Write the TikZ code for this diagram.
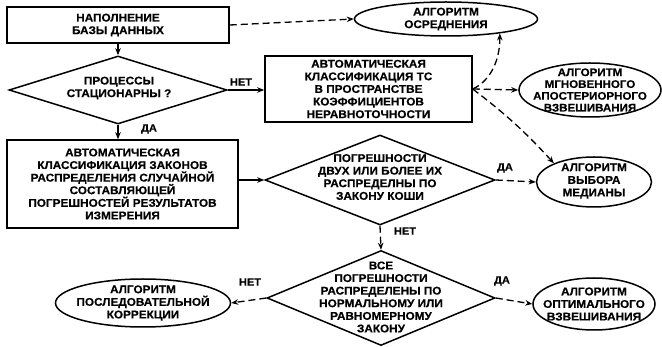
\documentclass[tikz,border=0pt]{standalone}
\usepackage{fontspec}
\setmainfont{Liberation Sans}[FakeStretch=1.05,BoldFeatures={FakeBold=0.4}]
\usetikzlibrary{shapes.geometric,arrows.meta}
\begin{document}
\begin{tikzpicture}[x=1pt,y=-1pt,
  lbl/.style={font=\bfseries\fontsize{11.2}{12.6}\selectfont, align=center, inner sep=0pt},
  box/.style={lbl, draw, line width=1.5pt, rectangle},
  dia/.style={draw, line width=1.5pt, diamond, inner sep=0pt},
  ell/.style={draw, line width=1.5pt, ellipse, inner sep=0pt},
  sarr/.style={line width=1.3pt, -{Stealth[length=7pt,width=5.5pt]}},
  darr/.style={sarr, dash pattern=on 7pt off 4pt},
  yesno/.style={font=\bfseries\fontsize{10.5}{12}\selectfont, inner sep=0pt}
]
\fill[white] (0,0) rectangle (662,347);
\useasboundingbox (0,0) rectangle (662,347);

\node[box, minimum width=222pt, minimum height=36pt] (fill) at (118,25) {НАПОЛНЕНИЕ\\БАЗЫ ДАННЫХ};
\node[dia, minimum width=218pt, minimum height=68pt] (proc) at (118,90) {};
\node[lbl] (procT) at (119,88) {ПРОЦЕССЫ\\СТАЦИОНАРНЫ ?};
\node[box, minimum width=231pt, minimum height=88pt] (laws) at (122.5,184) {АВТОМАТИЧЕСКАЯ\\КЛАССИФИКАЦИЯ ЗАКОНОВ\\РАСПРЕДЕЛЕНИЯ СЛУЧАЙНОЙ\\СОСТАВЛЯЮЩЕЙ\\ПОГРЕШНОСТЕЙ РЕЗУЛЬТАТОВ\\ИЗМЕРЕНИЯ};
\node[box, minimum width=207pt, minimum height=66pt] (ts) at (368.5,89) {АВТОМАТИЧЕСКАЯ\\КЛАССИФИКАЦИЯ ТС\\В ПРОСТРАНСТВЕ\\КОЭФФИЦИЕНТОВ\\НЕРАВНОТОЧНОСТИ};

\node[ell, minimum width=183pt, minimum height=34pt] (osr) at (446,19) {};
\node[lbl] (osrT) at (446,19) {АЛГОРИТМ\\ОСРЕДНЕНИЯ};
\node[ell, minimum width=142pt, minimum height=54pt] (mgn) at (590,90) {};
\node[lbl, font=\bfseries\fontsize{11}{11.8}\selectfont] (mgnT) at (590,90) {АЛГОРИТМ\\МГНОВЕННОГО\\АПОСТЕРИОРНОГО\\ВЗВЕШИВАНИЯ};
\node[ell, minimum width=115pt, minimum height=50pt] (med) at (594,182) {};
\node[lbl] (medT) at (594,181) {АЛГОРИТМ\\ВЫБОРА\\МЕДИАНЫ};

\node[dia, minimum width=230pt, minimum height=90pt] (cau) at (380,180) {};
\node[lbl] (cauT) at (380,177) {ПОГРЕШНОСТИ\\ДВУХ ИЛИ БОЛЕЕ ИХ\\РАСПРЕДЕЛНЫ ПО\\ЗАКОНУ КОШИ};
\node[dia, minimum width=228pt, minimum height=95pt] (nrm) at (381,298) {};
\node[lbl] (nrmT) at (381,297) {ВСЕ\\ПОГРЕШНОСТИ\\РАСПРЕДЕЛЕНЫ ПО\\НОРМАЛЬНОМУ ИЛИ\\РАВНОМЕРНОМУ\\ЗАКОНУ};

\node[ell, minimum width=175pt, minimum height=48pt] (pos) at (143,303) {};
\node[lbl] (posT) at (143,303) {АЛГОРИТМ\\ПОСЛЕДОВАТЕЛЬНОЙ\\КОРРЕКЦИИ};
\node[ell, minimum width=122pt, minimum height=52pt] (opt) at (594,304) {};
\node[lbl] (optT) at (594,304) {АЛГОРИТМ\\ОПТИМАЛЬНОГО\\ВЗВЕШИВАНИЯ};

\node[yesno] (l1) at (241,82) {НЕТ};
\node[yesno] (l2) at (149,129) {ДА};
\node[yesno] (l3) at (505,168) {ДА};
\node[yesno] (l4) at (405,231) {НЕТ};
\node[yesno] (l5) at (250,282) {НЕТ};
\node[yesno] (l6) at (502,281) {ДА};

\draw[sarr] (fill.south) -- (proc.north);
\draw[sarr] (proc.south) -- (proc.south |- laws.north);
\draw[sarr] (proc.east) -- (proc.east -| ts.west);
\draw[darr] (fill.east) -- (osr.west);
\draw[sarr] (laws.east |- cau.west) -- (cau.west);
\draw[darr] (cau.east) -- (med.west);
\draw[darr] (cau.south) -- (nrm.north);
\draw[darr] (nrm.west) -- (pos.east);
\draw[darr] (nrm.east) -- (opt.west);
\coordinate (J) at (ts.east);
\draw[darr] (J) .. controls (492,80) and (500,58) .. (osr.-15);
\draw[darr] (J) -- (mgn.west);
\draw[darr] (J) to[bend left=5] (med.155);
\end{tikzpicture}
\end{document}
